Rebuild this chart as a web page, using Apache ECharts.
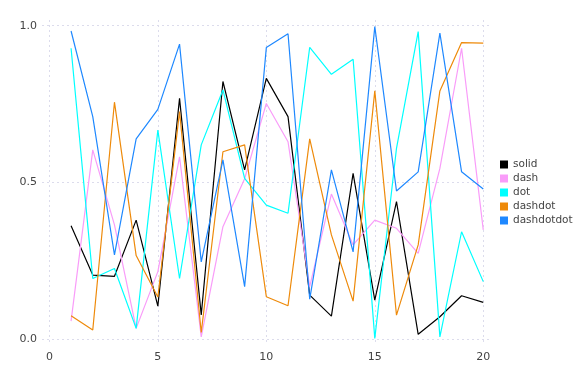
<!DOCTYPE html>
<html>
<head>
<meta charset="utf-8">
<script src="https://cdn.jsdelivr.net/npm/echarts@6/dist/echarts.min.js"></script>
<style>html,body{margin:0;padding:0;background:#fff;}#chart{width:576px;height:384px;}</style>
</head>
<body>
<div id="chart"></div>
<script>
const xValues = [1,2,3,4,5,6,7,8,9,10,11,12,13,14,15,16,17,18,19,20];
const solid = [0.362,0.205,0.201,0.380,0.106,0.768,0.078,0.822,0.540,0.832,0.710,0.141,0.074,0.529,0.125,0.439,0.016,0.072,0.139,0.118];
const dash = [0.058,0.604,0.365,0.035,0.216,0.582,0.008,0.359,0.512,0.752,0.630,0.168,0.463,0.301,0.380,0.354,0.274,0.545,0.928,0.349];
const dot = [0.928,0.194,0.226,0.035,0.667,0.194,0.620,0.795,0.513,0.428,0.402,0.931,0.845,0.893,0.003,0.609,0.981,0.008,0.343,0.184];
const dashdot = [0.075,0.030,0.756,0.267,0.135,0.726,0.022,0.598,0.620,0.136,0.107,0.639,0.333,0.122,0.792,0.077,0.301,0.792,0.946,0.944];
const dashdotdot = [0.983,0.710,0.269,0.639,0.733,0.941,0.247,0.572,0.168,0.930,0.974,0.128,0.540,0.279,0.997,0.473,0.534,0.976,0.534,0.479];
const xTicks = [0,5,10,15,20];
const yTicks = [0,0.5,1];

const seriesDefs = [
  {name:'solid', data:solid, color:'#000000'},
  {name:'dash', data:dash, color:'#f99cf9'},
  {name:'dot', data:dot, color:'#00ffff'},
  {name:'dashdot', data:dashdot, color:'#ee8a0a'},
  {name:'dashdotdot', data:dashdotdot, color:'#1e88ff'}
];

const chart = echarts.init(document.getElementById('chart'), null, {renderer:'canvas'});
const font = 'DejaVu Sans';
chart.setOption({
  animation:false,
  backgroundColor:'#ffffff',
  grid:{left:42, right:86, top:20, bottom:39, containLabel:false},
  legend:{
    orient:'vertical', left:495, top:154,
    icon:'rect', itemWidth:8, itemHeight:8, itemGap:3,
    textStyle:{fontFamily:font, fontSize:10.5, color:'#444'},
    data:seriesDefs.map(s=>s.name)
  },
  xAxis:{
    type:'value', min:-0.34, max:20.31,
    axisLine:{show:false},
    axisTick:{show:false, customValues:xTicks},
    axisLabel:{customValues:xTicks, fontFamily:font, fontSize:11, color:'#444', margin:7},
    splitLine:{show:true, lineStyle:{color:'#dcdcec', type:[2,3], width:1}}
  },
  yAxis:{
    type:'value', min:-0.018, max:1.018,
    axisLine:{show:false},
    axisTick:{show:false, customValues:yTicks},
    axisLabel:{customValues:yTicks, fontFamily:font, fontSize:11, color:'#444', margin:5,
      formatter:v=>Number(v).toFixed(1)},
    splitLine:{show:true, lineStyle:{color:'#dcdcec', type:[2,3], width:1}}
  },
  series:seriesDefs.map(s=>({
    name:s.name, type:'line', showSymbol:false, symbol:'none',
    data:xValues.map((x,i)=>[x,s.data[i]]),
    lineStyle:{color:s.color, width:1.2},
    itemStyle:{color:s.color}
  }))
});
</script>
</body>
</html>
